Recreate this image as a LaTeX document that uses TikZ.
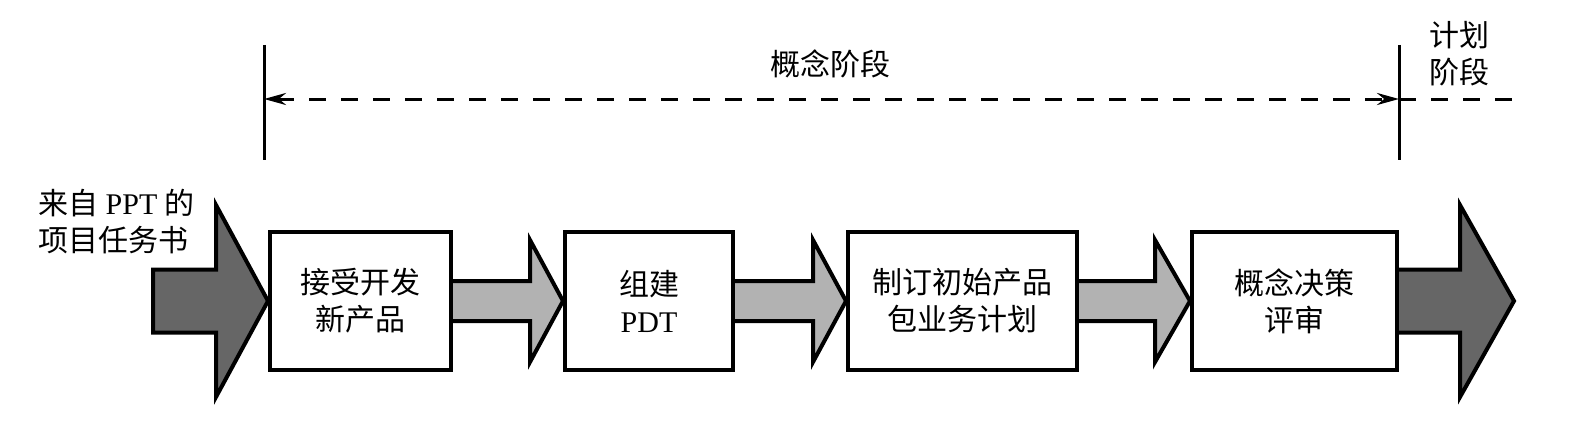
\documentclass[tikz,border=0pt]{standalone}
\usepackage{fontspec}
\setmainfont{Liberation Serif}
\newfontfamily\cjk{Noto Sans CJK SC}
\usetikzlibrary{calc,arrows.meta}
\definecolor{darkfill}{RGB}{102,102,102}
\definecolor{lightfill}{RGB}{178,178,178}
\begin{document}
\begin{tikzpicture}[x=1pt,y=-1pt,
  box/.style={draw,line width=4pt,fill=white,minimum height=138pt,align=center,
    font=\fontsize{30}{37}\selectfont\cjk,inner sep=0pt},
  fatdark/.style={draw,line width=4pt,fill=darkfill,line join=miter},
  fatlight/.style={draw,line width=4pt,fill=lightfill,line join=miter},
  lbl/.style={font=\fontsize{30}{37}\selectfont\cjk,align=center,inner sep=0pt},
  phase/.style={line width=3pt},
  span/.style={line width=3pt,dash pattern=on 17pt off 15pt},
  tip/.style={Stealth[length=22pt,width=12pt]}
]
\useasboundingbox[fill=white] (0,0) rectangle (1586,436);

% boxes
\node[box,minimum width=181pt] (b1) at (360.5,301) {接受开发\\新产品};
\node[box,minimum width=168pt] (b2) at (649,301) {组建\\\rmfamily PDT};
\node[box,minimum width=229pt] (b3) at (962.5,301) {制订初始产品\\包业务计划};
\node[box,minimum width=205pt] (b4) at (1294.5,301) {概念决策\\评审};

% free ends
\coordinate (src) at (153,301);
\coordinate (out) at (1514,301);

% dark arrows
\draw[fatdark] ($(src)+(0,-31.5)$) -- ($(b1.west)+(-52,-31.5)$) -- ($(b1.west)+(-52,-96)$)
  -- (b1.west) -- ($(b1.west)+(-52,96)$) -- ($(b1.west)+(-52,31.5)$) -- ($(src)+(0,31.5)$) -- cycle;
\draw[fatdark] ($(b4.east)+(0,-31.5)$) -- ($(out)+(-54,-31.5)$) -- ($(out)+(-54,-96)$)
  -- (out) -- ($(out)+(-54,96)$) -- ($(out)+(-54,31.5)$) -- ($(b4.east)+(0,31.5)$);

% light arrows
\draw[fatlight] ($(b1.east)+(0,-20)$) -- ($(b2.west)+(-33,-20)$) -- ($(b2.west)+(-33,-61)$)
  -- (b2.west) -- ($(b2.west)+(-33,61)$) -- ($(b2.west)+(-33,20)$) -- ($(b1.east)+(0,20)$);
\draw[fatlight] ($(b2.east)+(0,-20)$) -- ($(b3.west)+(-33,-20)$) -- ($(b3.west)+(-33,-61)$)
  -- (b3.west) -- ($(b3.west)+(-33,61)$) -- ($(b3.west)+(-33,20)$) -- ($(b2.east)+(0,20)$);
\draw[fatlight] ($(b3.east)+(0,-20)$) -- ($(b4.west)+(-35,-20)$) -- ($(b4.west)+(-35,-61)$)
  -- (b4.west) -- ($(b4.west)+(-35,61)$) -- ($(b4.west)+(-35,20)$) -- ($(b3.east)+(0,20)$);

% phase markers
\coordinate (lt) at (264,45);
\coordinate (lb) at (264,160);
\coordinate (rt) at (1399,45);
\coordinate (rb) at (1399,160);
\coordinate (la) at (264,99);
\coordinate (ra) at (1399,99);
\coordinate (re) at (1512,99);
\draw[phase] (lt) -- (lb);
\draw[phase] (rt) -- (rb);
\draw[span,{Stealth[length=22pt,width=12pt]}-{Stealth[length=22pt,width=12pt]}] (la) -- (ra);
\draw[span] (ra) -- (re);

% labels
\node[lbl,anchor=west,align=left] (srclbl) at (38,222) {来自{\rmfamily\ PPT }的\\项目任务书};
\node[lbl] (concept) at (830,64) {概念阶段};
\node[lbl] (plan) at (1459,54) {计划\\阶段};
\end{tikzpicture}
\end{document}
